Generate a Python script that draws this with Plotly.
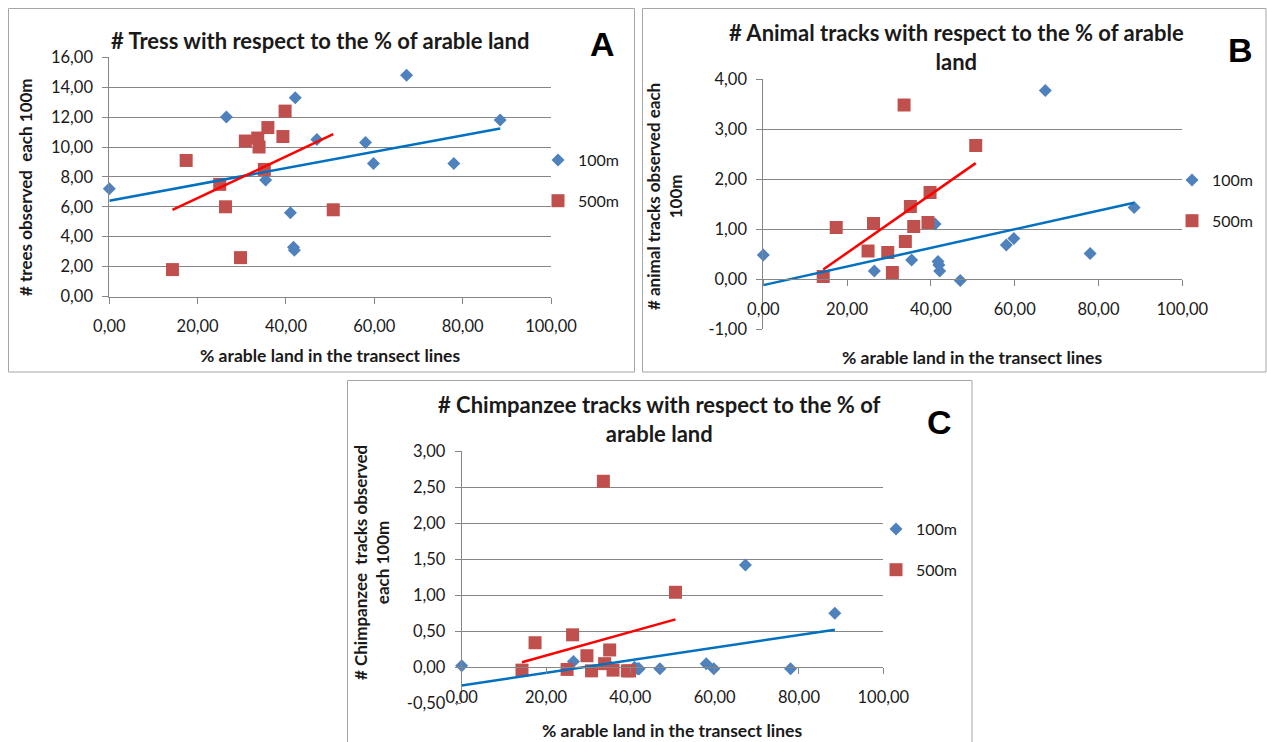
import numpy as np
import plotly.graph_objects as go

W, H = 1267, 742

# ---------------- data ----------------
x_100m = [0.0, 26.5, 35.4, 41.0, 41.7, 41.9, 42.1, 47.0, 58.0, 59.8, 67.3, 78.0, 88.5]
x_500m = [14.3, 17.4, 25.0, 26.3, 29.7, 30.8, 33.6, 33.9, 35.1, 35.9, 39.3, 39.8, 50.7]

trees_100m = [7.2, 12.0, 7.8, 5.6, 3.3, 3.1, 13.3, 10.5, 10.3, 8.9, 14.8, 8.9, 11.8]
trees_500m = [1.8, 9.1, 7.5, 6.0, 2.6, 10.4, 10.6, 10.0, 8.5, 11.3, 10.7, 12.4, 5.8]

animal_100m = [0.48, 0.16, 0.38, 1.10, 0.35, 0.28, 0.16, -0.03, 0.68, 0.81, 3.77, 0.51, 1.43]
animal_500m = [0.05, 1.03, 0.56, 1.11, 0.53, 0.13, 3.48, 0.75, 1.45, 1.05, 1.13, 1.73, 2.67]

chimp_100m = [0.02, 0.08, 0.0, 0.0, -0.02, -0.02, -0.02, -0.02, 0.05, -0.02, 1.42, -0.02, 0.75]
chimp_500m = [-0.04, 0.34, -0.03, 0.45, 0.16, -0.05, 2.58, 0.05, 0.24, -0.04, -0.05, -0.05, 1.04]

x_tick_vals = [0, 20, 40, 60, 80, 100]
a_tick_vals = [0, 2, 4, 6, 8, 10, 12, 14, 16]
b_tick_vals = [-1, 0, 1, 2, 3, 4]
c_tick_vals = [-0.5, 0, 0.5, 1.0, 1.5, 2.0, 2.5, 3.0]

series_names = ["100m", "500m"]
titles = ["# Tress with respect to the % of arable land",
          "# Animal tracks with respect to the % of arable<br>land",
          "# Chimpanzee tracks with respect to the % of<br>arable land"]
y_titles = ["# trees observed  each 100m",
            "# animal tracks observed each<br>100m",
            "# Chimpanzee  tracks observed<br>each 100m"]
x_title = "% arable land in the transect lines"
letters = ["A", "B", "C"]


def lab(vals):
    return [f"{v:.2f}".replace(".", ",") for v in vals]


# ---------------- layout helpers ----------------
def fx(p):
    return p / W


def fy(p):
    return 1 - p / H


BLUE_M = "#4F81BD"
RED_M = "#C0504D"
BLUE_L = "#0070C0"
RED_L = "#FF0000"
GRID = "#868686"
TXT = "#1a1a1a"
FONT = "Lato"

panels = [
    dict(data=(trees_100m, trees_500m), yt=a_tick_vals, yr=[0, 16],
         box=(109.3, 551.0, 57.3, 296.5), zero=None,
         frame=(8.5, 634.5, 8.5, 372.0),
         title_xy=(320, 40), letter_xy=(602, 44),
         ytitle_xy=(25, 187), xtitle_xy=(330, 356), leg_xy=(538, 143)),
    dict(data=(animal_100m, animal_500m), yt=b_tick_vals, yr=[-1, 4],
         box=(763.3, 1182.3, 79.0, 329.0), zero=279.0,
         frame=(642.5, 1266.0, 8.5, 372.0),
         title_xy=(956, 47), letter_xy=(1240, 50),
         ytitle_xy=(664, 197), xtitle_xy=(972, 357), leg_xy=(1172, 163)),
    dict(data=(chimp_100m, chimp_500m), yt=c_tick_vals, yr=[-0.5, 3],
         box=(461.7, 883.3, 451.0, 703.3), zero=667.3,
         frame=(347.5, 972.0, 380.5, 745.0),
         title_xy=(660, 419), letter_xy=(940, 422),
         ytitle_xy=(371, 562), xtitle_xy=(672, 730), leg_xy=(876, 512)),
]

fig = go.Figure()
layout = dict(width=W, height=H, autosize=False,
              margin=dict(l=0, r=0, t=0, b=0, autoexpand=False),
              paper_bgcolor="white", plot_bgcolor="white",
              font=dict(family=FONT, color=TXT),
              shapes=[], annotations=[])

for i, p in enumerate(panels):
    n = "" if i == 0 else str(i + 1)
    xa, ya = "x" + n, "y" + n
    leg = "legend" + n
    y100, y500 = p["data"]
    x0, x1, y0, y1 = p["box"]

    fig.add_trace(go.Scatter(x=x_100m, y=y100, mode="markers", name=series_names[0],
                             marker=dict(symbol="diamond", size=10, color=BLUE_M),
                             cliponaxis=False,
                             xaxis=xa, yaxis=ya, legend=leg, legendgroup="a" + n))
    fig.add_trace(go.Scatter(x=x_500m, y=y500, mode="markers", name=series_names[1],
                             marker=dict(symbol="square", size=13, color=RED_M),
                             cliponaxis=False,
                             xaxis=xa, yaxis=ya, legend=leg, legendgroup="b" + n))
    for xs, ys, col in ((x_100m, y100, BLUE_L), (x_500m, y500, RED_L)):
        k, b = np.polyfit(xs, ys, 1)
        ex = np.array([min(xs), max(xs)])
        fig.add_trace(go.Scatter(x=ex, y=k * ex + b, mode="lines",
                                 line=dict(color=col, width=2.5),
                                 showlegend=False, hoverinfo="skip",
                                 xaxis=xa, yaxis=ya))

    xkey = "xaxis" + n
    ykey = "yaxis" + n
    xax = dict(domain=[fx(x0), fx(x1)], range=[0, 100], showgrid=False, zeroline=False,
               showline=True, linecolor=GRID, linewidth=1, automargin=False,
               ticks="outside", ticklen=6, tickcolor=GRID, tickwidth=1,
               tickvals=x_tick_vals, ticktext=lab(x_tick_vals),
               tickfont=dict(size=16.5, color=TXT, family=FONT),
               ticklabelstandoff=9, fixedrange=True)
    if p["zero"] is None:
        xax["anchor"] = ya
    else:
        xax["anchor"] = "free"
        xax["position"] = fy(p["zero"])
    yax = dict(domain=[fy(y1), fy(y0)], range=p["yr"], anchor=xa,
               showgrid=True, gridcolor=GRID, gridwidth=1, zeroline=False,
               showline=True, linecolor=GRID, linewidth=1, automargin=False,
               ticks="outside", ticklen=6, tickcolor=GRID, tickwidth=1,
               tickvals=p["yt"], ticktext=lab(p["yt"]),
               tickfont=dict(size=16.5, color=TXT, family=FONT),
               ticklabelstandoff=6, fixedrange=True)
    layout[xkey] = xax
    layout[ykey] = yax

    lx, ly = p["leg_xy"]
    layout[leg] = dict(x=fx(lx), y=fy(ly), xanchor="left", yanchor="top",
                       font=dict(size=16, color=TXT, family=FONT),
                       bgcolor="rgba(0,0,0,0)", traceorder="grouped",
                       tracegroupgap=17, itemsizing="trace")

    fx0, fx1, fy0, fy1 = p["frame"]
    layout["shapes"].append(dict(type="rect", xref="paper", yref="paper",
                                 x0=fx(fx0), x1=fx(fx1), y0=fy(fy1), y1=fy(fy0),
                                 line=dict(color="#a6a6a6", width=1), layer="below"))

    tx, ty = p["title_xy"]
    layout["annotations"].append(dict(text="<b>" + titles[i] + "</b>", xref="paper", yref="paper",
                                      x=fx(tx), y=fy(ty), xanchor="center", yanchor="middle",
                                      showarrow=False, font=dict(size=22, family=FONT, color=TXT)))
    lxx, lyy = p["letter_xy"]
    layout["annotations"].append(dict(text="<b>" + letters[i] + "</b>", xref="paper", yref="paper",
                                      x=fx(lxx), y=fy(lyy), xanchor="center", yanchor="middle",
                                      showarrow=False,
                                      font=dict(size=34, family="Liberation Sans", color="black")))
    yx, yy = p["ytitle_xy"]
    layout["annotations"].append(dict(text="<b>" + y_titles[i] + "</b>", xref="paper", yref="paper",
                                      x=fx(yx), y=fy(yy), xanchor="center", yanchor="middle",
                                      textangle=-90, showarrow=False,
                                      font=dict(size=17, family=FONT, color=TXT)))
    xx, xy = p["xtitle_xy"]
    layout["annotations"].append(dict(text="<b>" + x_title + "</b>", xref="paper", yref="paper",
                                      x=fx(xx), y=fy(xy), xanchor="center", yanchor="middle",
                                      showarrow=False, font=dict(size=17.5, family=FONT, color=TXT)))

fig.update_layout(**layout)
fig.write_html("out.html")
